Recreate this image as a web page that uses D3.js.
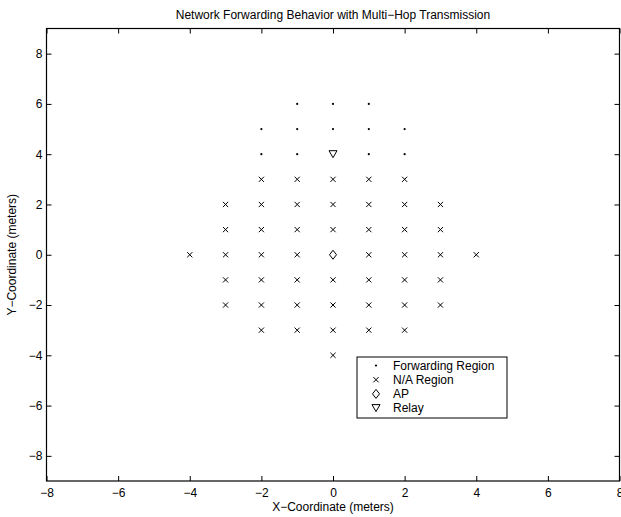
<!DOCTYPE html>
<html>
<head>
<meta charset="utf-8">
<script src="https://cdn.jsdelivr.net/npm/d3@7"></script>
<style>
  html, body { margin: 0; padding: 0; background: #fff; }
  svg { display: block; }
  text { font-family: "Liberation Sans", Arial, Helvetica, sans-serif; fill: #000; }
</style>
</head>
<body>
<script>
// ---- data ----
const forwardingPoints = [
  [-1, 6], [0, 6], [1, 6],
  [-2, 5], [-1, 5], [0, 5], [1, 5], [2, 5],
  [-2, 4], [-1, 4], [1, 4], [2, 4]
];
const naPoints = [
  [-2, 3], [-1, 3], [0, 3], [1, 3], [2, 3],
  [-3, 2], [-2, 2], [-1, 2], [0, 2], [1, 2], [2, 2], [3, 2],
  [-3, 1], [-2, 1], [-1, 1], [0, 1], [1, 1], [2, 1], [3, 1],
  [-4, 0], [-3, 0], [-2, 0], [-1, 0], [1, 0], [2, 0], [3, 0], [4, 0],
  [-3, -1], [-2, -1], [-1, -1], [0, -1], [1, -1], [2, -1], [3, -1],
  [-3, -2], [-2, -2], [-1, -2], [0, -2], [1, -2], [2, -2], [3, -2],
  [-2, -3], [-1, -3], [0, -3], [1, -3], [2, -3],
  [0, -4]
];
const apPoints = [[0, 0]];
const relayPoints = [[0, 4]];
const xTicks = [-8, -6, -4, -2, 0, 2, 4, 6, 8];
const yTicks = [-8, -6, -4, -2, 0, 2, 4, 6, 8];
const xDomain = [-8, 8];
const yDomain = [-9, 9];
const legendLabels = ["Forwarding Region", "N/A Region", "AP", "Relay"];
const titleText = "Network Forwarding Behavior with Multi\u2212Hop Transmission";
const xLabelText = "X\u2212Coordinate (meters)";
const yLabelText = "Y\u2212Coordinate (meters)";

// ---- layout ----
const W = 621, H = 517;
const mLeft = 46.5, mRight = 619.5, mTop = 28.5, mBottom = 481;

const svg = d3.select("body").append("svg").attr("width", W).attr("height", H);

const x = d3.scaleLinear().domain(xDomain).range([mLeft, mRight]);
const y = d3.scaleLinear().domain(yDomain).range([mBottom, mTop]);

const tickLen = 5;
const fs = 12;

// axes
const axB = svg.append("g").attr("transform", `translate(0,${mBottom})`)
  .call(d3.axisBottom(x).tickValues(xTicks).tickSizeInner(-tickLen).tickSizeOuter(0).tickPadding(7.5));
const axT = svg.append("g").attr("transform", `translate(0,${mTop})`)
  .call(d3.axisTop(x).tickValues(xTicks).tickSizeInner(-tickLen).tickSizeOuter(0).tickFormat(""));
const axL = svg.append("g").attr("transform", `translate(${mLeft},0)`)
  .call(d3.axisLeft(y).tickValues(yTicks).tickSizeInner(-tickLen).tickSizeOuter(0).tickPadding(4));
const axR = svg.append("g").attr("transform", `translate(${mRight},0)`)
  .call(d3.axisRight(y).tickValues(yTicks).tickSizeInner(-tickLen).tickSizeOuter(0).tickFormat(""));

[axB, axT, axL, axR].forEach(a => {
  a.select(".domain").remove();
  a.selectAll(".tick line").attr("stroke", "#000").attr("stroke-width", 1);
  a.selectAll("text").attr("font-size", fs).attr("font-family", "Liberation Sans, Arial, sans-serif").attr("fill", "#000");
});

// frame
svg.append("rect").attr("x", mLeft).attr("y", mTop)
  .attr("width", mRight - mLeft).attr("height", mBottom - mTop)
  .attr("fill", "none").attr("stroke", "#000").attr("stroke-width", 1.2);

// marker painters
function drawDot(g, cx, cy) {
  g.append("circle").attr("cx", cx).attr("cy", cy).attr("r", 1.1).attr("fill", "#000");
}
function drawCross(g, cx, cy) {
  const s = 2.6;
  g.append("path")
    .attr("d", `M${cx - s},${cy - s}L${cx + s},${cy + s}M${cx - s},${cy + s}L${cx + s},${cy - s}`)
    .attr("stroke", "#000").attr("stroke-width", 1).attr("fill", "none");
}
function drawDiamond(g, cx, cy) {
  const w = 3.5, h = 4.5;
  g.append("path")
    .attr("d", `M${cx},${cy - h}L${cx + w},${cy}L${cx},${cy + h}L${cx - w},${cy}Z`)
    .attr("stroke", "#000").attr("stroke-width", 1).attr("fill", "none");
}
function drawTriDown(g, cx, cy) {
  const w = 4, h = 3.5;
  g.append("path")
    .attr("d", `M${cx - w},${cy - h}L${cx + w},${cy - h}L${cx},${cy + h}Z`)
    .attr("stroke", "#000").attr("stroke-width", 1).attr("fill", "none");
}

const marks = svg.append("g");
forwardingPoints.forEach(p => drawDot(marks, x(p[0]), y(p[1])));
naPoints.forEach(p => drawCross(marks, x(p[0]), y(p[1])));
apPoints.forEach(p => drawDiamond(marks, x(p[0]), y(p[1])));
relayPoints.forEach(p => drawTriDown(marks, x(p[0]), y(p[1])));

// title & labels
svg.append("text").attr("x", (mLeft + mRight) / 2).attr("y", 19)
  .attr("text-anchor", "middle").attr("font-size", fs).text(titleText);
svg.append("text").attr("x", (mLeft + mRight) / 2).attr("y", 511)
  .attr("text-anchor", "middle").attr("font-size", fs).text(xLabelText);
svg.append("text").attr("transform", `translate(16,${(mTop + mBottom) / 2}) rotate(-90)`)
  .attr("text-anchor", "middle").attr("font-size", fs).text(yLabelText);

// legend
const lg = svg.append("g");
const lx0 = 357, ly0 = 357, lw = 150, lh = 61;
lg.append("rect").attr("x", lx0).attr("y", ly0).attr("width", lw).attr("height", lh)
  .attr("fill", "#fff").attr("stroke", "#000").attr("stroke-width", 1);
const painters = [drawDot, drawCross, drawDiamond, drawTriDown];
legendLabels.forEach((lab, i) => {
  const cy = ly0 + 8.5 + i * 14.2;
  painters[i](lg, lx0 + 19, cy);
  lg.append("text").attr("x", lx0 + 36).attr("y", cy + 4.3)
    .attr("font-size", fs).text(lab);
});
</script>
</body>
</html>
